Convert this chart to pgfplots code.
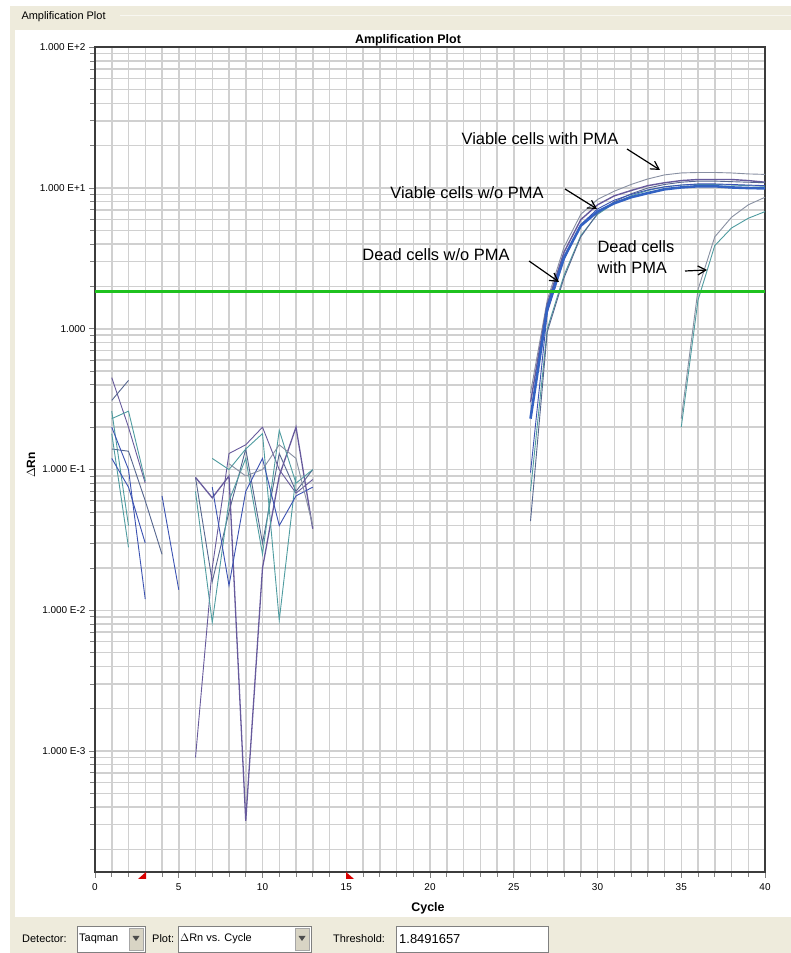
\documentclass[border=0pt]{standalone}
\usepackage{fontspec}
\setmainfont{Liberation Sans}
\usepackage{pgfplots}
\pgfplotsset{compat=1.18}
\usetikzlibrary{arrows.meta}
\definecolor{beige}{HTML}{EEEBDC}
\definecolor{gridgray}{HTML}{D0D0D0}
\definecolor{axisgray}{HTML}{3C3C3C}
\definecolor{cteal}{HTML}{4F9CA0}
\definecolor{cslate}{HTML}{56668F}
\definecolor{cblue}{HTML}{3B52B2}
\definecolor{cpurple}{HTML}{675A9C}
\definecolor{cgray}{HTML}{8890A2}
\definecolor{cthick}{HTML}{3362C2}
\definecolor{thgreen}{HTML}{1FC21F}
\definecolor{btn}{HTML}{D8D4C4}
\begin{document}
\begin{tikzpicture}[x=1bp,y=1bp]
\useasboundingbox (0,0) rectangle (791,953);
\fill[white] (0,0) rectangle (791,953);
% window frame
\fill[beige] (10,923) rectangle (791,947);
\draw[white!60!beige, line width=1.2bp] (120,937.5) -- (791,937.5);
\fill[beige] (10,0) rectangle (15,947);
\fill[beige] (10,0) rectangle (791,36);
\node[anchor=west, font=\fontsize{11}{12}\selectfont] at (18,936) {Amplification Plot};

\begin{axis}[
  at={(95bp,81.3bp)}, anchor=south west, scale only axis,
  width=670bp, height=824.4bp,
  xmin=0, xmax=40, ymode=log, ymin=1.39e-4, ymax=100,
  xtick={0,5,...,40}, minor x tick num=4,
  ytick={1e-3,1e-2,1e-1,1,10,100},
  yticklabels={1.000 E-3,1.000 E-2,1.000 E-1,1.000,1.000 E+1,1.000 E+2},
  minor ytick={2e-4,3e-4,4e-4,5e-4,6e-4,7e-4,8e-4,9e-4,
    2e-3,3e-3,4e-3,5e-3,6e-3,7e-3,8e-3,9e-3,
    2e-2,3e-2,4e-2,5e-2,6e-2,7e-2,8e-2,9e-2,
    0.2,0.3,0.4,0.5,0.6,0.7,0.8,0.9,
    2,3,4,5,6,7,8,9,
    20,30,40,50,60,70,80,90},
  grid=both,
  major grid style={line width=1.5bp, color=gridgray},
  minor grid style={line width=1.5bp, color=gridgray},
  axis line style={line width=1.6bp, color=axisgray},
  tick pos=left, tick align=outside,
  tick style={color=gray, line width=0.8bp},
  major tick length=6bp, minor tick length=5bp,
  /pgf/number format/assume math mode=true,
  xticklabel style={font=\fontsize{10}{11}\selectfont, yshift=-2bp},
  yticklabel style={font=\fontsize{10}{11}\selectfont},
  every axis plot/.append style={line width=0.9bp, no markers},
]
% --- baseline noise, cycles 1-5
\addplot[cpurple] coordinates {(1,0.45)(2,0.2)(3,0.08)};
\addplot[cslate] coordinates {(1,0.31)(2,0.43)};
\addplot[cteal] coordinates {(1,0.23)(2,0.26)(3,0.083)};
\addplot[cteal] coordinates {(1,0.26)(2,0.04)};
\addplot[cslate] coordinates {(1,0.14)(2,0.135)(3,0.06)(4,0.025)};
\addplot[cblue] coordinates {(1,0.2)(2,0.1)(3,0.012)};
\addplot[cblue] coordinates {(4,0.065)(5,0.014)};
\addplot[cteal] coordinates {(1,0.18)(2,0.028)};
\addplot[cblue] coordinates {(1,0.12)(2,0.075)(3,0.03)};
% --- baseline noise, cycles 6-13
\addplot[cslate] coordinates {(6,0.088)(7,0.016)(8,0.05)(9,0.14)(10,0.03)(11,0.13)(12,0.07)(13,0.1)};
\addplot[cpurple, line width=1.3bp] coordinates {(6,0.088)(7,0.063)(8,0.09)(9,0.00032)(10,0.02)(11,0.09)(12,0.2)(13,0.038)};
\addplot[cpurple] coordinates {(6,0.0009)(7,0.02)(8,0.13)(9,0.15)(10,0.2)(11,0.1)(12,0.068)(13,0.085)};
\addplot[cteal] coordinates {(6,0.07)(7,0.0082)(8,0.06)(9,0.12)(10,0.025)(11,0.19)(12,0.08)(13,0.1)};
\addplot[cteal] coordinates {(7,0.12)(8,0.1)(9,0.14)(10,0.18)(11,0.0085)(12,0.09)};
\addplot[cblue] coordinates {(7,0.075)(8,0.015)(9,0.07)(10,0.12)(11,0.04)(12,0.065)(13,0.075)};
\addplot[cgray] coordinates {(8,0.11)(9,0.09)(10,0.1)(11,0.15)(12,0.12)(13,0.04)};
% --- amplification curves
\addplot[cgray] coordinates {(26,0.35)(27,1.6)(28,3.8)(29,6.5)(30,8.3)(31,9.5)(32,10.6)(33,11.6)(34,12.4)(35,12.8)(36,12.9)(37,12.9)(38,12.8)(39,12.6)(40,12.5)};
\addplot[cpurple, line width=1.4bp] coordinates {(26,0.3)(27,1.5)(28,3.5)(29,5.96)(30,7.6)(31,8.8)(32,9.6)(33,10.4)(34,10.9)(35,11.3)(36,11.5)(37,11.5)(38,11.5)(39,11.3)(40,11.0)};
\addplot[cteal] coordinates {(26,0.07)(27,1.0)(28,2.4)(29,4.6)(30,6.5)(31,7.8)(32,8.8)(33,9.6)(34,10.2)(35,10.5)(36,10.6)(37,10.6)(38,10.5)(39,10.4)(40,10.3)};
\addplot[cslate] coordinates {(26,0.043)(27,0.95)(28,2.3)(29,4.5)(30,6.6)(31,8.0)(32,9.1)(33,10.0)(34,10.6)(35,11.0)(36,11.2)(37,11.2)(38,11.1)(39,11.0)(40,10.9)};
\addplot[cblue] coordinates {(26,0.095)(27,1.3)(28,3.1)(29,5.5)(30,7.1)(31,8.2)(32,9.0)(33,9.7)(34,10.2)(35,10.5)(36,10.7)(37,10.7)(38,10.6)(39,10.5)(40,10.4)};
\addplot[cthick, line width=2.6bp] coordinates {(26,0.23)(27,1.4)(28,3.2)(29,5.4)(30,6.8)(31,7.8)(32,8.6)(33,9.2)(34,9.8)(35,10.1)(36,10.3)(37,10.3)(38,10.1)(39,10.0)(40,9.95)};
\addplot[cgray] coordinates {(35,0.23)(36,1.9)(37,4.5)(38,6.2)(39,7.6)(40,8.6)};
\addplot[cteal] coordinates {(35,0.2)(36,1.6)(37,3.9)(38,5.2)(39,6.1)(40,6.8)};
% --- threshold
\addplot[thgreen, line width=3bp] coordinates {(0,1.8491657)(40,1.8491657)};
\end{axis}

% baseline markers
\fill[red!85!black] (138,74) -- (146,74) -- (146,81) -- cycle;
\fill[red!85!black] (346,81) -- (346,74) -- (354,74) -- cycle;

% titles
\node[font=\bfseries\fontsize{12.5}{14}\selectfont] at (408,913) {Amplification Plot};
\node[font=\bfseries\fontsize{12.5}{14}\selectfont] at (428,45) {Cycle};
\node[font=\bfseries\fontsize{12}{14}\selectfont, rotate=90] at (31,488) {$\Delta$Rn};

% annotations
\begin{scope}[font=\fontsize{16.5}{18}\selectfont]
\node at (540,814) {Viable cells with PMA};
\node at (467,760) {Viable cells w/o PMA};
\node at (436,698) {Dead cells w/o PMA};
\node[anchor=west] at (594,706) {Dead cells};
\node[anchor=west] at (594,685) {with PMA};
\end{scope}
\begin{scope}[line width=1.2bp, -{Straight Barb[length=8bp,width=9bp]}]
\draw (627,804) -- (660,783);
\draw (565,764) -- (597,744);
\draw (529,692) -- (559,671);
\draw (685,682) -- (707,683);
\end{scope}

% bottom control bar
\begin{scope}[font=\fontsize{11}{12}\selectfont]
\node[anchor=west, inner sep=0] at (22,14) {Detector:};
\fill[white] (77,1) rectangle (145,27);
\draw[gray] (77,1) rectangle (145,27);
\node[anchor=west, inner sep=0] at (79,14) {Taqman};
\fill[btn] (129,3) rectangle (143,25);
\draw[gray!70] (129,3) rectangle (143,25);
\fill[black!70] (132.5,17) -- (139.5,17) -- (136,12) -- cycle;
\node[anchor=west, inner sep=0] at (152,14) {Plot:};
\fill[white] (178,1) rectangle (311,27);
\draw[gray] (178,1) rectangle (311,27);
\node[anchor=west, inner sep=0] at (180,14) {$\Delta$Rn vs. Cycle};
\fill[btn] (295,3) rectangle (309,25);
\draw[gray!70] (295,3) rectangle (309,25);
\fill[black!70] (298.5,17) -- (305.5,17) -- (302,12) -- cycle;
\node[anchor=west, inner sep=0] at (333,14) {Threshold:};
\fill[white] (396,1) rectangle (548,27);
\draw[gray] (396,1) rectangle (548,27);
\node[anchor=west, inner sep=0, font=\fontsize{13}{14}\selectfont] at (399,14) {1.8491657};
\end{scope}
\end{tikzpicture}
\end{document}
